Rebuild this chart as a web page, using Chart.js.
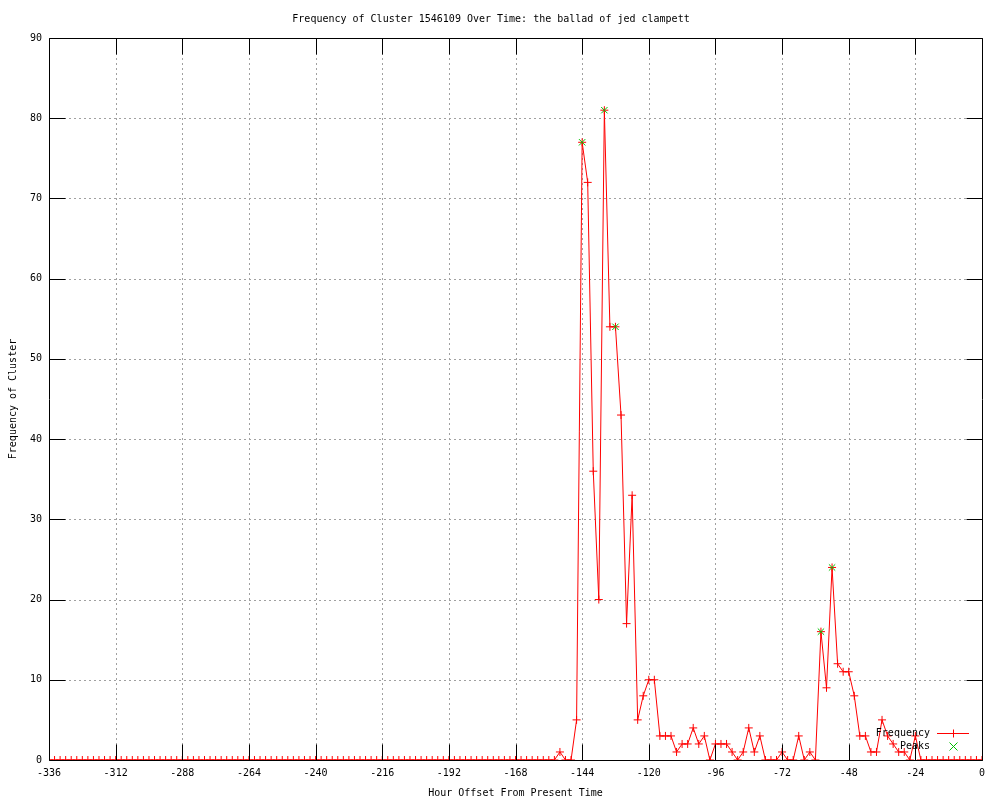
<!DOCTYPE html>
<html>
<head>
<meta charset="utf-8">
<title>Frequency of Cluster 1546109</title>
<script src="https://cdn.jsdelivr.net/npm/chart.js@4.4.0/dist/chart.umd.min.js"></script>
<style>
  html, body { margin: 0; padding: 0; background: #fff; }
  #chart { display: block; }
</style>
</head>
<body>
<canvas id="chart" width="1000" height="800"></canvas>
<script>
// hour offsets: one sample every 2 hours, from -336 up to 0
var hourStart = -336;
var hourStep = 2;
var frequency = [
    0, 0, 0, 0, 0, 0, 0, 0, 0, 0, 0, 0,      // -336 .. -314
    0, 0, 0, 0, 0, 0, 0, 0, 0, 0, 0, 0,      // -312 .. -290
    0, 0, 0, 0, 0, 0, 0, 0, 0, 0, 0, 0,      // -288 .. -266
    0, 0, 0, 0, 0, 0, 0, 0, 0, 0, 0, 0,      // -264 .. -242
    0, 0, 0, 0, 0, 0, 0, 0, 0, 0, 0, 0,      // -240 .. -218
    0, 0, 0, 0, 0, 0, 0, 0, 0, 0, 0, 0,      // -216 .. -194
    0, 0, 0, 0, 0, 0, 0, 0, 0, 0, 0, 0,      // -192 .. -170
    0, 0, 0, 0, 0, 0, 0, 0, 1, 0, 0, 5,      // -168 .. -146
    77, 72, 36, 20, 81, 54, 54, 43, 17, 33, 5, 8,   // -144 .. -122
    10, 10, 3, 3, 3, 1, 2, 2, 4, 2, 3, 0,    // -120 .. -98
    2, 2, 2, 1, 0, 1, 4, 1, 3, 0, 0, 0,      // -96 .. -74
    1, 0, 0, 3, 0, 1, 0, 16, 9, 24, 12, 11,  // -72 .. -50
    11, 8, 3, 3, 1, 1, 5, 3, 2, 1, 1, 0,     // -48 .. -26
    3, 0, 0, 0, 0, 0, 0, 0, 0, 0, 0, 0,      // -24 .. -2
    0                                         // 0
];
var peakHours = [-144, -136, -132, -58, -54];
var peakValues = [77, 81, 54, 16, 24];
var xMin = -336, xMax = 0, xTickStep = 24;
var yMin = 0, yMax = 90, yTickStep = 10;

var freqColor = '#ff0000';
var peakColor = '#00c000';
var monoFont = { family: "'DejaVu Sans Mono', 'Liberation Mono', monospace", size: 10 };

function freqPoints() {
    var pts = [];
    for (var i = 0; i < frequency.length; i++) {
        pts.push({ x: hourStart + i * hourStep, y: frequency[i] });
    }
    return pts;
}
function peakPoints() {
    return peakHours.map(function (h, i) { return { x: h, y: peakValues[i] }; });
}

// gnuplot look: dotted grid, full frame, ticks pointing inwards on all four sides
var gnuplotFrame = {
    id: 'gnuplotFrame',
    beforeDatasetsDraw: function (chart) {
        var ctx = chart.ctx, a = chart.chartArea;
        var xs = chart.scales.x, ys = chart.scales.y;
        ctx.save();
        ctx.strokeStyle = '#a0a0a0';
        ctx.lineWidth = 1;
        ctx.setLineDash([2, 3]);
        ctx.beginPath();
        xs.ticks.forEach(function (t) {
            var px = Math.round(xs.getPixelForValue(t.value)) + 0.5;
            if (px < a.left + 2 || px > a.right - 2) return;
            ctx.moveTo(px, a.top);
            ctx.lineTo(px, a.bottom);
        });
        ys.ticks.forEach(function (t) {
            var py = Math.round(ys.getPixelForValue(t.value)) + 0.5;
            if (py < a.top + 2 || py > a.bottom - 2) return;
            ctx.moveTo(a.left, py);
            ctx.lineTo(a.right, py);
        });
        ctx.stroke();
        ctx.restore();
    },
    afterDatasetsDraw: function (chart) {
        var ctx = chart.ctx, a = chart.chartArea;
        var xs = chart.scales.x, ys = chart.scales.y;
        var tickLen = 16;
        var l = a.left + 0.5, r = a.right + 0.5, t = a.top + 0.5, b = a.bottom + 0.5;
        ctx.save();
        ctx.strokeStyle = '#000';
        ctx.lineWidth = 1;
        ctx.beginPath();
        ctx.rect(l, t, r - l, b - t);
        xs.ticks.forEach(function (tk) {
            var px = Math.round(xs.getPixelForValue(tk.value)) + 0.5;
            ctx.moveTo(px, b); ctx.lineTo(px, b - tickLen);
            ctx.moveTo(px, t); ctx.lineTo(px, t + tickLen);
        });
        ys.ticks.forEach(function (tk) {
            var py = Math.round(ys.getPixelForValue(tk.value)) + 0.5;
            ctx.moveTo(l, py); ctx.lineTo(l + tickLen, py);
            ctx.moveTo(r, py); ctx.lineTo(r - tickLen, py);
        });
        ctx.stroke();
        ctx.restore();
    },
    afterDraw: function (chart) {
        // key in the lower right corner, text right-aligned before the sample
        var ctx = chart.ctx, a = chart.chartArea;
        var textRight = a.right - 52;
        var sampleL = a.right - 45, sampleR = a.right - 13;
        var mid = Math.round((sampleL + sampleR) / 2) + 0.5;
        ctx.save();
        ctx.font = monoFont.size + 'px ' + monoFont.family;
        ctx.textAlign = 'right';
        ctx.textBaseline = 'middle';
        chart.data.datasets.forEach(function (ds, i) {
            var y = a.bottom - 27 + i * 13 + 0.5;
            var col = i === 0 ? freqColor : peakColor;
            ctx.fillStyle = '#000';
            ctx.fillText(ds.label, textRight, y);
            ctx.strokeStyle = col;
            ctx.lineWidth = 1;
            ctx.beginPath();
            if (i === 0) {
                ctx.moveTo(sampleL, y); ctx.lineTo(sampleR, y);
                ctx.moveTo(mid, y - 4); ctx.lineTo(mid, y + 4);
            } else {
                ctx.moveTo(mid - 4, y - 4); ctx.lineTo(mid + 4, y + 4);
                ctx.moveTo(mid - 4, y + 4); ctx.lineTo(mid + 4, y - 4);
            }
            ctx.stroke();
        });
        ctx.restore();
    }
};

var chart = new Chart(document.getElementById('chart').getContext('2d'), {
    type: 'line',
    data: {
        datasets: [{
            label: 'Frequency',
            data: freqPoints(),
            borderColor: freqColor,
            backgroundColor: freqColor,
            borderWidth: 1,
            pointStyle: 'cross',
            pointRadius: 4,
            pointBorderWidth: 1,
            pointHoverRadius: 4,
            tension: 0,
            order: 1
        }, {
            label: 'Peaks',
            data: peakPoints(),
            showLine: false,
            borderColor: peakColor,
            backgroundColor: peakColor,
            pointStyle: 'crossRot',
            pointRadius: 4.5,
            pointBorderWidth: 1,
            pointHoverRadius: 4.5,
            order: 0
        }]
    },
    options: {
        responsive: false,
        animation: false,
        layout: { padding: { left: 0, right: 18, top: 0, bottom: 0 } },
        plugins: {
            legend: { display: false },
            tooltip: { enabled: false },
            title: {
                display: true,
                text: 'Frequency of Cluster 1546109 Over Time: the ballad of jed clampett',
                color: '#000',
                font: { family: monoFont.family, size: 10, weight: 'normal' },
                padding: { top: 13, bottom: 13 }
            }
        },
        scales: {
            x: {
                type: 'linear',
                min: xMin,
                max: xMax,
                grid: { display: false, drawTicks: false },
                border: { display: false },
                ticks: {
                    stepSize: xTickStep,
                    autoSkip: false,
                    maxRotation: 0,
                    color: '#000',
                    padding: 7,
                    font: monoFont
                },
                title: {
                    display: true,
                    text: 'Hour Offset From Present Time',
                    color: '#000',
                    font: monoFont,
                    padding: { top: 0, bottom: 1 }
                },
                afterFit: function (scale) { scale.height = 40; }
            },
            y: {
                min: yMin,
                max: yMax,
                grid: { display: false, drawTicks: false },
                border: { display: false },
                ticks: {
                    stepSize: yTickStep,
                    color: '#000',
                    padding: 7,
                    font: monoFont
                },
                title: {
                    display: true,
                    text: 'Frequency of Cluster',
                    color: '#000',
                    font: monoFont,
                    padding: { top: 7, bottom: 0 }
                },
                afterFit: function (scale) { scale.width = 49; }
            }
        }
    },
    plugins: [gnuplotFrame]
});
</script>
</body>
</html>
